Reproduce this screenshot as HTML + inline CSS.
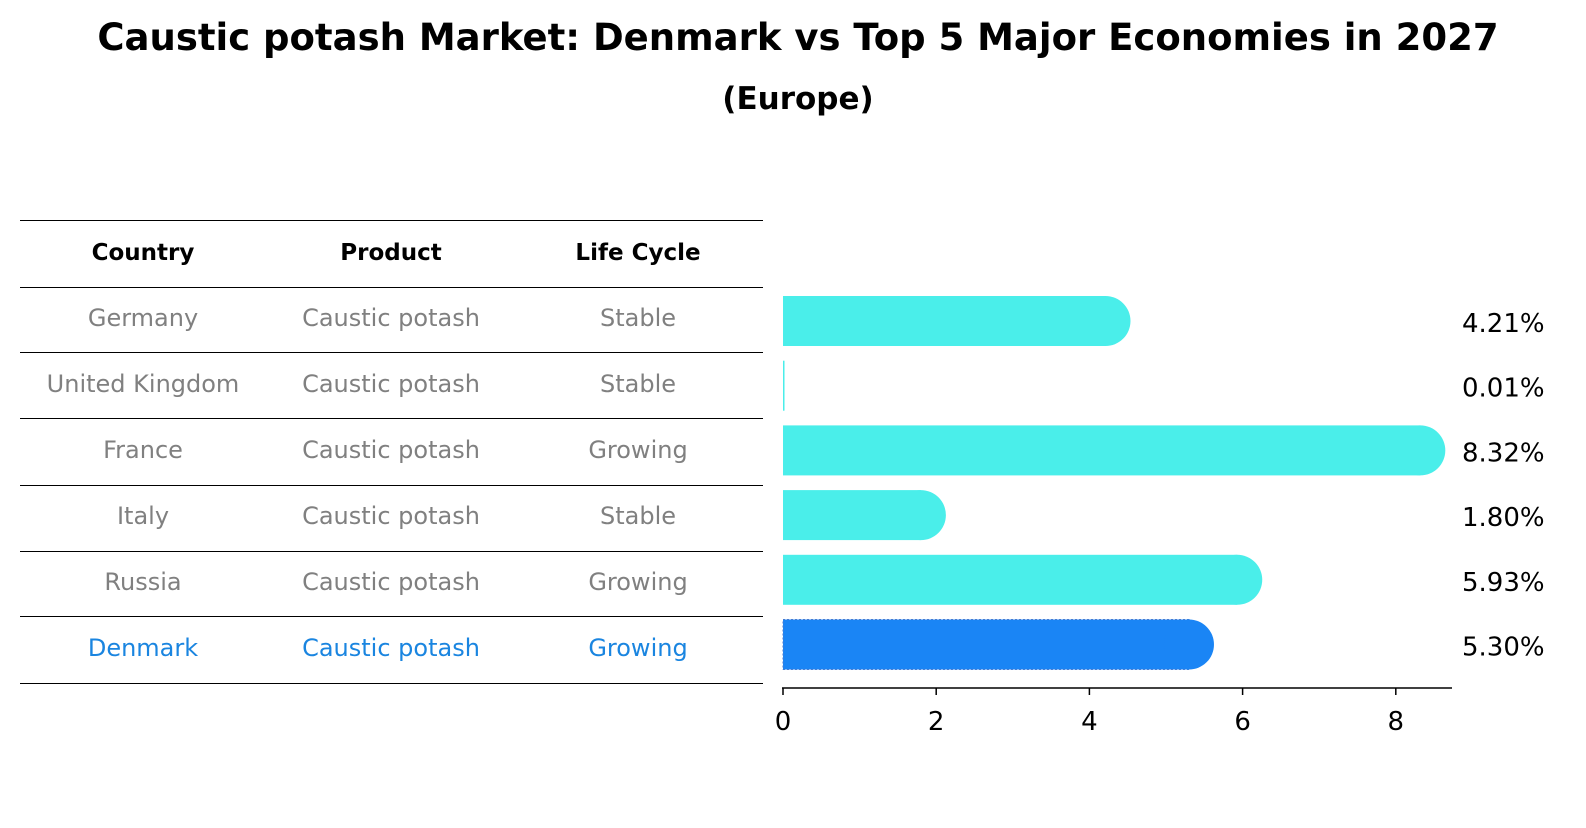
<!DOCTYPE html>
<html><head><meta charset="utf-8"><style>
body{margin:0;background:#fff;font-family:"Liberation Sans","DejaVu Sans",sans-serif;}
svg text{font-family:"DejaVu Sans","Liberation Sans",sans-serif;}
</style></head><body>
<svg id="c" width="1586" height="823" viewBox="0 0 1586 823" xmlns="http://www.w3.org/2000/svg">
<text x="798" y="50" text-anchor="middle" font-size="37" font-weight="bold">Caustic potash Market: Denmark vs Top 5 Major Economies in 2027</text>
<text x="798" y="109" text-anchor="middle" font-size="31" font-weight="bold">(Europe)</text>
<g id="table"></g>
<g id="bars"></g>
</svg>
<script>
const countries=["Germany","United Kingdom","France","Italy","Russia","Denmark"];
const products=["Caustic potash","Caustic potash","Caustic potash","Caustic potash","Caustic potash","Caustic potash"];
const lifeCycles=["Stable","Stable","Growing","Stable","Growing","Growing"];
const values=[4.21,0.01,8.32,1.80,5.93,5.30];
const ticks=[0,2,4,6,8];
const NS="http://www.w3.org/2000/svg";
function mk(t,a,p){const e=document.createElementNS(NS,t);for(const k in a)e.setAttribute(k,a[k]);p.appendChild(e);return e;}
const x=v=>783+v*76.6;
const rowY=i=>321+i*64.7;
const tbl=document.getElementById('table');
const lines=[220,287,352,418,485,551,616,683];
lines.forEach((ly,i)=>{const l=mk('line',{x1:20,x2:763,y1:ly+0.5,y2:ly+0.5,stroke:'#000','stroke-width':1},tbl);

});
const cx=[143,391,638];
["Country","Product","Life Cycle"].forEach((h,j)=>{const t=mk('text',{x:cx[j],y:260,'text-anchor':'middle','font-size':23,'font-weight':'bold'},tbl);t.textContent=h;

});
countries.forEach((c,i)=>{const y=326+i*66;const col=i===5?'#1a85e0':'#808080';
[c,products[i],lifeCycles[i]].forEach((s,j)=>{const t=mk('text',{x:cx[j],y:y,'text-anchor':'middle','font-size':24,fill:col},tbl);t.textContent=s;

});});
const g=document.getElementById('bars');
values.forEach((v,i)=>{const cy=rowY(i),h=50,col=i===5?'#1a85f5':'#4aeeea';
const w=Math.max(x(v)-x(0),1.5);
const r=mk('rect',{x:x(0),y:cy-h/2,width:w,height:h,fill:col},g);
if(i===5){r.setAttribute('stroke','#4a7ad0');r.setAttribute('stroke-dasharray','2,2');r.setAttribute('stroke-width','1');}


if(v>0.5){const c=mk('circle',{cx:x(v),cy:cy,r:h/2,fill:col},g);

}
const t=mk('text',{x:1462,y:cy+11,'font-size':26},g);t.textContent=v.toFixed(2)+'%';

});
const ax=mk('line',{x1:782,x2:1452,y1:688,y2:688,stroke:'#000','stroke-width':1.5},g);


ticks.forEach(tv=>{const l=mk('line',{x1:x(tv),x2:x(tv),y1:688,y2:695,stroke:'#000','stroke-width':1.5},g);


const t=mk('text',{x:x(tv),y:730,'text-anchor':'middle','font-size':26},g);t.textContent=tv;

});
</script>
</body></html>
